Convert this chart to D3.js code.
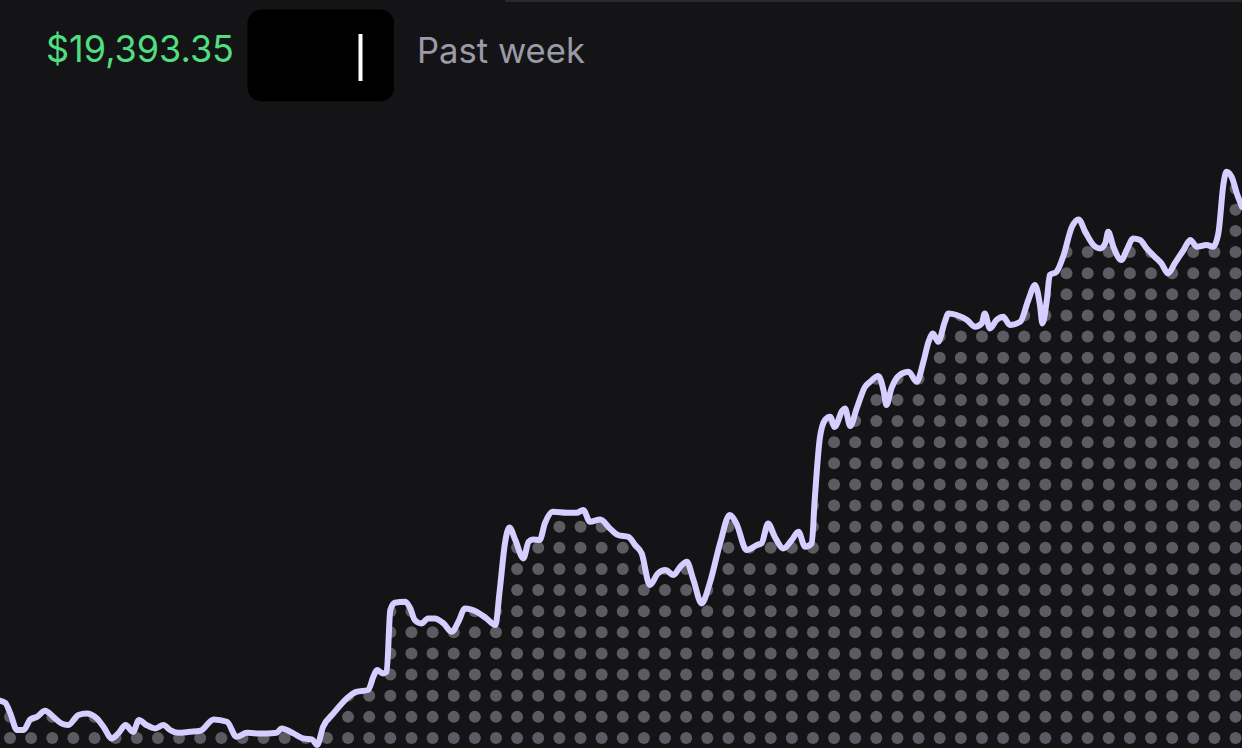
<!DOCTYPE html>
<html>
<head>
<meta charset="utf-8">
<script src="https://cdn.jsdelivr.net/npm/d3@7"></script>
<style>
  html, body { margin: 0; padding: 0; background: #141416; overflow: hidden; }
  svg { display: block; }
</style>
</head>
<body>
<svg id="chart" width="1242" height="748"></svg>
<script>
// ---- data ----
const currentPrice = "$19,393.35";
const periodLabel = "Past week";

// hours since start of the week
const hours = [0,0.7,1.4,2.3,3.2,4.1,5.0,6.1,7.2,8.3,9.2,10.6,11.7,13.1,14.0,15.1,16.0,17.0,18.0,18.8,
  19.8,21.0,22.1,23.0,24.1,25.7,27.1,28.9,30.7,32.0,33.4,34.7,36.1,37.4,38.1,39.7,41.0,42.2,42.9,43.7,
  45.1,46.9,48.2,49.8,50.5,51.0,51.8,52.3,52.8,53.4,54.8,55.5,56.1,57.0,57.9,58.8,60.0,61.1,62.0,62.9,
  64.5,65.8,67.0,67.6,68.3,68.9,69.7,70.8,71.5,72.1,73.0,73.7,74.8,76.7,78.0,78.9,79.8,81.2,82.5,83.6,
  85.0,85.9,86.8,87.9,89.0,90.0,91.1,92.0,92.9,93.8,94.9,96.0,97.4,98.7,99.6,101.0,102.4,103.0,103.9,104.8,
  106.0,107.1,108.0,108.9,109.8,110.2,110.9,111.6,112.3,112.9,113.9,114.3,115.0,115.9,117.0,117.7,118.8,119.5,119.9,120.6,
  121.7,122.9,124.0,124.9,125.6,126.2,126.9,127.8,128.3,129.4,130.8,131.9,132.8,133.2,133.9,134.8,135.7,136.6,138.0,139.1,
  140.0,140.7,141.0,141.6,142.0,142.9,143.8,145.0,145.9,146.8,147.9,148.8,149.5,149.9,150.6,151.7,152.4,153.3,154.2,155.1,
  156.2,157.1,158.0,158.9,160.1,161.0,161.9,163.2,164.1,164.8,165.5,165.9,166.6,167.3,168.0];

// portfolio value in dollars
const prices = [16924,16913,16860,16777,16777,16830,16843,16873,16843,16810,16802,16852,16860,16835,16793,16735,16760,16802,16768,16827,
  16802,16785,16802,16777,16763,16768,16773,16830,16818,16743,16763,16760,16760,16763,16785,16760,16735,16730,16702,16793,
  16860,16935,16968,16977,17043,17077,17060,17068,17377,17413,17418,17385,17327,17310,17335,17335,17310,17268,17318,17385,
  17368,17335,17302,17477,17710,17790,17727,17635,17718,17730,17727,17810,17868,17863,17863,17877,17818,17830,17785,17752,
  17743,17702,17660,17502,17560,17577,17552,17593,17618,17527,17410,17510,17710,17852,17810,17677,17702,17710,17810,17743,
  17685,17727,17768,17693,17710,17927,18237,18327,18343,18292,18372,18385,18297,18387,18492,18518,18547,18477,18402,18487,
  18552,18568,18518,18618,18718,18760,18718,18818,18860,18852,18827,18793,18810,18860,18785,18827,18843,18802,18818,18927,
  19002,18893,18810,18927,19052,19068,19143,19293,19330,19268,19202,19185,19210,19268,19193,19127,19177,19235,19227,19185,
  19143,19110,19060,19110,19177,19227,19193,19202,19193,19260,19510,19568,19543,19460,19393];

const hourDomain = [0, 168];
const priceDomain = [16687, 20427];

// ---- drawing ----
const W = 1242, H = 748;
const svg = d3.select("#chart");

svg.append("rect").attr("width", W).attr("height", H).attr("fill", "#141416");
svg.append("rect").attr("x", 505).attr("y", 0).attr("width", W - 505).attr("height", 2).attr("fill", "#2a2a2c");

const x = d3.scaleLinear().domain(hourDomain).range([0, W]);
const y = d3.scaleLinear().domain(priceDomain).range([H, 0]);

const data = hours.map((h, i) => ({ h, p: prices[i] }));

const curve = d3.curveMonotoneX;
const area = d3.area().x(d => x(d.h)).y0(H).y1(d => y(d.p)).curve(curve);
const line = d3.line().x(d => x(d.h)).y(d => y(d.p)).curve(curve);

const defs = svg.append("defs");
defs.append("clipPath").attr("id", "under")
  .append("path").attr("d", area(data));

// dotted fill under the line
const step = 21.13, r = 6, x0 = 10, yb = 738;
const cols = d3.range(0, Math.ceil((W - x0) / step) + 1);
const rows = d3.range(0, Math.ceil(yb / step) + 1);
const dots = [];
cols.forEach(c => rows.forEach(rr => dots.push([x0 + c * step, yb - rr * step])));
svg.append("g").attr("clip-path", "url(#under)")
  .selectAll("circle").data(dots).join("circle")
  .attr("cx", d => d[0]).attr("cy", d => d[1]).attr("r", r)
  .attr("fill", "#5b5b61");

svg.append("path").datum(data)
  .attr("d", line)
  .attr("fill", "none")
  .attr("stroke", "#d7cdff")
  .attr("stroke-width", 6)
  .attr("stroke-linejoin", "round")
  .attr("stroke-linecap", "round");

// header
svg.append("text")
  .attr("x", 46).attr("y", 62)
  .attr("font-family", "Inter, 'Noto Sans', sans-serif")
  .attr("font-size", 37)
  .attr("fill", "#4fdf80")
  .attr("textLength", 188).attr("lengthAdjust", "spacingAndGlyphs")
  .text(currentPrice);

svg.append("rect")
  .attr("x", 247.5).attr("y", 9.5).attr("width", 146.5).attr("height", 92)
  .attr("rx", 14).attr("fill", "#000");
svg.append("rect")
  .attr("x", 358.5).attr("y", 34).attr("width", 4).attr("height", 47)
  .attr("fill", "#ffffff");

svg.append("text")
  .attr("x", 417).attr("y", 63)
  .attr("font-family", "Inter, 'Noto Sans', sans-serif")
  .attr("font-size", 35)
  .attr("fill", "#9a9ba6")
  .attr("textLength", 168).attr("lengthAdjust", "spacingAndGlyphs")
  .text(periodLabel);
</script>
</body>
</html>
